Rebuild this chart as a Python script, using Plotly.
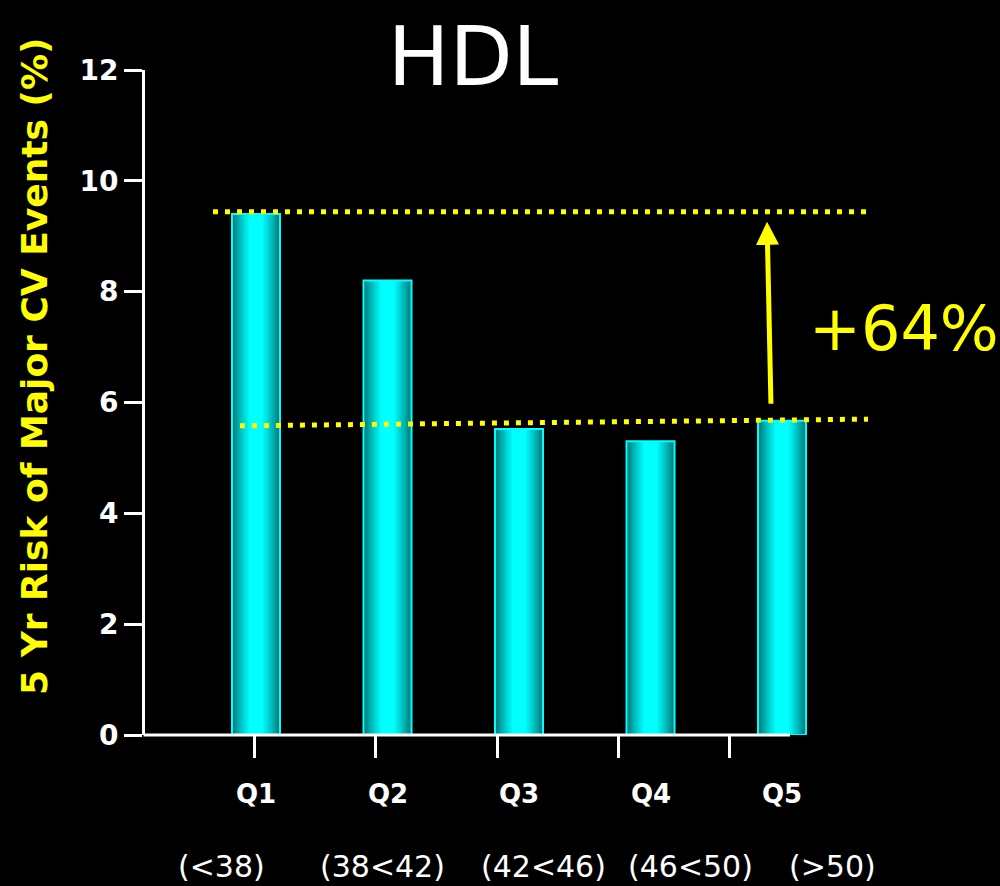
import plotly.graph_objects as go

# ---- data ----
categories = ["Q1", "Q2", "Q3", "Q4", "Q5"]
hdl_ranges = ["(<38)", "(38<42)", "(42<46)", "(46<50)", "(>50)"]
risk = [9.4, 8.2, 5.52, 5.3, 5.67]
y_ticks = [0, 2, 4, 6, 8, 10, 12]
upper_ref = [9.44, 9.44]      # dotted reference line (Q1 level)
lower_ref = [5.58, 5.70]      # dotted reference line (Q5 level)
arrow_from_to = [5.95, 9.26]  # arrow tail / head values
increase_label = "+64%"
y_title = "5 Yr Risk of Major CV Events (%)"

# ---- layout constants ----
X_RANGE = [-0.844, 4.745]
BAR_W = 0.365
xpos = list(range(len(categories)))
fig = go.Figure()

# gradient bars: overlay narrowing layers from dark teal to bright cyan
N = 14
dark = (0, 112, 112)
bright = (0, 255, 255)
for k in range(N):
    t = k / (N - 1)
    w = BAR_W * (1 - 0.72 * t)
    c = tuple(int(round(d + (b - d) * (t ** 0.8))) for d, b in zip(dark, bright))
    fig.add_trace(go.Bar(
        x=xpos, y=risk, width=w,
        marker=dict(color=f"rgb{c}", line=dict(width=0)),
        showlegend=False, hoverinfo="skip"))
# outline
fig.add_trace(go.Bar(
    x=xpos, y=risk, width=BAR_W,
    marker=dict(color="rgba(0,0,0,0)", line=dict(color="#00ffff", width=2)),
    showlegend=False, hovertemplate="%{y}<extra></extra>"))

# decorative x tick marks (offset as in source)
x_tick_marks = [-0.015, 0.905, 1.833, 2.753, 3.597]

fig.update_layout(
    width=1000, height=886,
    margin=dict(l=145, r=120, t=70, b=151),
    paper_bgcolor="black", plot_bgcolor="black",
    barmode="overlay",
    title=dict(text="HDL", x=0.473, xanchor="center", xref="container",
               y=1 - 56 / 886, yanchor="middle", yref="container",
               font=dict(family="DejaVu Sans", size=82, color="white")),
    xaxis=dict(range=X_RANGE, showgrid=False, zeroline=False,
               showline=False,
               tickmode="array", tickvals=x_tick_marks,
               ticktext=[""] * len(x_tick_marks),
               ticks="outside", ticklen=22, tickwidth=3, tickcolor="white"),
    yaxis=dict(range=[0, 12], showgrid=False, zeroline=False,
               showline=True, linecolor="white", linewidth=3,
               tickmode="array", tickvals=y_ticks,
               ticks="outside", ticklen=18, tickwidth=3, tickcolor="white",
               tickfont=dict(family="DejaVu Sans", size=28, color="white",
                             weight="bold")),
)

# x axis baseline (ends short of the last bar, as in the source)
fig.add_shape(type="line", xref="paper", yref="paper", x0=-0.002, x1=0.8776,
              y0=0, y1=0, line=dict(color="white", width=3), layer="above")

# y-axis title
fig.add_annotation(x=-0.1497, y=0.555, xref="paper", yref="paper", text=y_title,
                   textangle=-90, showarrow=False, xanchor="center",
                   yanchor="middle",
                   font=dict(family="DejaVu Sans", size=36, color="#ffff00",
                             weight="bold"))

# category labels
range_shift = [-34, -5, 24, 40, 50]
for i, (cat, rng) in enumerate(zip(categories, hdl_ranges)):
    fig.add_annotation(x=i, y=-0.0887, xref="x", yref="paper", text=cat,
                       showarrow=False, xanchor="center", yanchor="middle",
                       font=dict(family="DejaVu Sans", size=26, color="white",
                                 weight="bold"))
    fig.add_annotation(x=i, y=-0.197, xref="x", yref="paper", text=rng,
                       showarrow=False, xanchor="center", yanchor="middle",
                       xshift=range_shift[i],
                       font=dict(family="DejaVu Sans", size=30, color="white"))

# dotted reference lines
dot = dict(color="#ffff00", width=5, dash="5px,7px")
fig.add_shape(type="line", xref="x", yref="y", x0=-0.327, x1=4.654,
              y0=upper_ref[0], y1=upper_ref[1], line=dot, layer="above")
fig.add_shape(type="line", xref="x", yref="y", x0=-0.122, x1=4.654,
              y0=lower_ref[0], y1=lower_ref[1], line=dot, layer="above")

# arrow
fig.add_annotation(x=3.886, y=arrow_from_to[1], xref="x", yref="y",
                   ax=3.916, ay=arrow_from_to[0], axref="x", ayref="y",
                   showarrow=True, arrowhead=2, arrowsize=0.92, arrowwidth=5,
                   arrowcolor="#ffff00", text="")
# percentage label
fig.add_annotation(x=1.0327, y=7.33, xref="paper", yref="y", text=increase_label,
                   showarrow=False, xanchor="center", yanchor="middle",
                   font=dict(family="DejaVu Sans", size=62, color="#ffff00"))

fig.write_html("out.html")
